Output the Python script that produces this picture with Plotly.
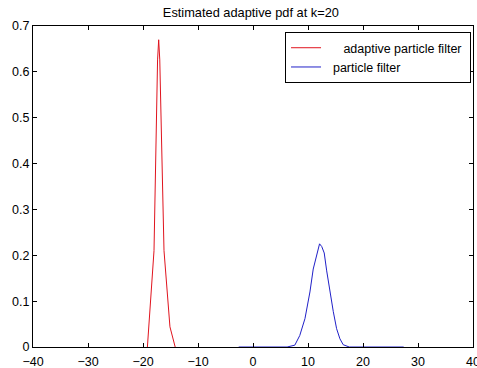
import plotly.graph_objects as go

# ---- data ----
apf_x = [-19.2, -18.0, -17.35, -17.15, -16.95, -16.18, -15.1, -14.15]
apf_y = [0.0, 0.21, 0.626, 0.670, 0.626, 0.21, 0.044, 0.0]

pf_x = [-2.6, 6.2, 7.6, 8.5, 9.45, 10.35, 10.95, 11.55, 12.1, 12.5, 12.95,
        13.4, 14.0, 14.6, 15.2, 15.8, 16.4, 17.5, 27.4]
pf_y = [0.0, 0.0, 0.004, 0.025, 0.062, 0.120, 0.170, 0.200, 0.225, 0.219,
        0.205, 0.166, 0.120, 0.077, 0.040, 0.018, 0.005, 0.0, 0.0]

x_ticks = [-40, -30, -20, -10, 0, 10, 20, 30, 40]
y_ticks = [0, 0.1, 0.2, 0.3, 0.4, 0.5, 0.6, 0.7]
y_tick_text = ["0", "0.1", "0.2", "0.3", "0.4", "0.5", "0.6", "0.7"]

title_text = "Estimated adaptive pdf at k=20"
NBSP = "\u00a0"
name_apf = NBSP * 5 + "adaptive particle filter" + NBSP
name_pf = NBSP * 2 + "particle filter"

FONT = "Liberation Sans, Arial, sans-serif"

fig = go.Figure()
fig.add_trace(go.Scatter(x=apf_x, y=apf_y, mode="lines", name=name_apf,
                         line=dict(color="#e0141e", width=1)))
fig.add_trace(go.Scatter(x=pf_x, y=pf_y, mode="lines", name=name_pf,
                         line=dict(color="#2020c8", width=1)))

axis_common = dict(showline=True, linecolor="black", linewidth=1, mirror="ticks",
                   ticks="inside", ticklen=4, tickcolor="black", showgrid=False,
                   zeroline=False, automargin=False,
                   tickfont=dict(family=FONT, size=12.5, color="black"))

fig.update_layout(
    width=477, height=368,
    margin=dict(l=33, r=4, t=26, b=21),
    paper_bgcolor="white", plot_bgcolor="white",
    title=dict(text=title_text, x=0.526, xanchor="center", y=0.965, yanchor="middle",
               font=dict(family=FONT, size=12.8, color="black")),
    xaxis=dict(range=[-40, 40], tickvals=x_ticks, ticklabeloverflow="allow",
               ticklabelstandoff=3, **axis_common),
    yaxis=dict(range=[0, 0.7], tickvals=y_ticks, ticktext=y_tick_text, **axis_common),
    legend=dict(x=0.9955, xanchor="right", y=0.981, yanchor="top",
                bgcolor="white", bordercolor="black", borderwidth=1,
                font=dict(family=FONT, size=12.5, color="black"),
                tracegroupgap=0),
    showlegend=True,
)

fig.write_html("out.html", config={"displayModeBar": False},
               post_script="document.body.style.margin='0';document.body.style.overflow='hidden';")
